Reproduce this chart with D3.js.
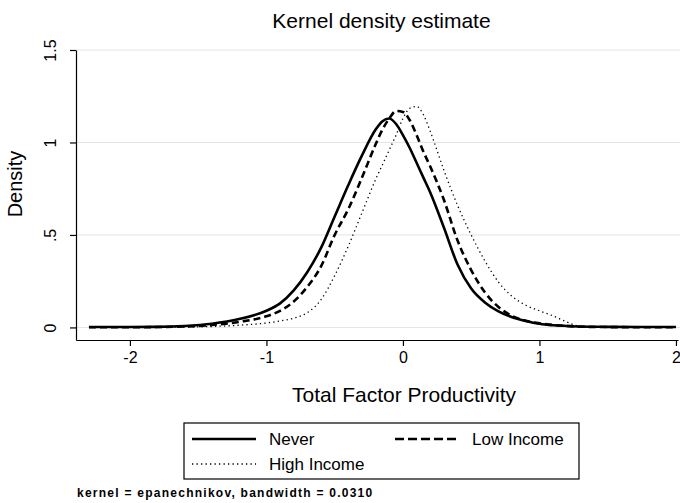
<!DOCTYPE html>
<html>
<head>
<meta charset="utf-8">
<script src="https://cdn.jsdelivr.net/npm/d3@7"></script>
<style>
  body { margin: 0; background: #fff; }
  text { font-family: "Liberation Sans", Arial, sans-serif; fill: #000; }
</style>
</head>
<body>
<script>
var xGrid = [-2.3, -2.0, -1.8, -1.6, -1.4, -1.2, -1.0, -0.9, -0.8, -0.7, -0.6, -0.5, -0.4, -0.3, -0.2, -0.15,
  -0.1, -0.05, 0, 0.05, 0.1, 0.15, 0.2, 0.3, 0.4, 0.5, 0.6, 0.7, 0.8, 0.9, 1.0, 1.1, 1.2, 1.3, 1.5, 1.75, 2.0];

var neverDensity = [0.002, 0.002, 0.003, 0.008, 0.02, 0.045, 0.09, 0.13, 0.2, 0.3, 0.43, 0.6, 0.77, 0.93, 1.07, 1.115,
  1.13, 1.1, 1.04, 0.97, 0.89, 0.81, 0.73, 0.54, 0.34, 0.21, 0.135, 0.087, 0.055, 0.035, 0.02, 0.012, 0.008, 0.005, 0.003, 0.002, 0.002];

var lowDensity = [0.001, 0.001, 0.002, 0.005, 0.013, 0.03, 0.06, 0.09, 0.14, 0.22, 0.33, 0.5, 0.64, 0.81, 0.99, 1.07,
  1.13, 1.17, 1.165, 1.12, 1.04, 0.95, 0.87, 0.69, 0.47, 0.31, 0.19, 0.11, 0.062, 0.036, 0.022, 0.013, 0.008, 0.004, 0.002, 0.001, 0.001];

var highDensity = [0.001, 0.001, 0.001, 0.002, 0.005, 0.012, 0.024, 0.035, 0.05, 0.08, 0.15, 0.28, 0.44, 0.62, 0.8, 0.88,
  0.96, 1.04, 1.13, 1.185, 1.195, 1.15, 1.06, 0.85, 0.66, 0.5, 0.36, 0.245, 0.168, 0.12, 0.09, 0.062, 0.03, 0.006, 0.002, 0.001, 0.001];

var seriesNames = ["Never", "Low Income", "High Income"];
var xTicks = [-2, -1, 0, 1, 2];
var xTickLabels = ["-2", "-1", "0", "1", "2"];
var yTicks = [0, 0.5, 1, 1.5];
var yTickLabels = ["0", ".5", "1", "1.5"];

var svgWidth = 680;
var svgHeight = 503;

var svg = d3.select("body")
  .append("svg")
  .attr("width", svgWidth)
  .attr("height", svgHeight);

var xScale = d3.scaleLinear()
  .domain([-2.395, 2.015])
  .range([76, 678]);

var yScale = d3.scaleLinear()
  .domain([-0.068, 1.5])
  .range([340, 50]);

// gridlines
svg.selectAll(".grid")
  .data(yTicks)
  .enter()
  .append("line")
  .attr("class", "grid")
  .attr("x1", 76)
  .attr("x2", 680)
  .attr("y1", function(d) { return yScale(d); })
  .attr("y2", function(d) { return yScale(d); })
  .style("stroke", "#e4e4e4")
  .style("stroke-width", 1);

// curves
var styles = [
  { width: 2.6, dash: null },
  { width: 2.6, dash: "7,4" },
  { width: 1.3, dash: "1.3,3.2" }
];
var allSeries = [neverDensity, lowDensity, highDensity];

var line = d3.line()
  .x(function(d, i) { return xScale(xGrid[i]); })
  .y(function(d) { return yScale(d); })
  .curve(d3.curveMonotoneX);

svg.selectAll(".curve")
  .data(allSeries)
  .enter()
  .append("path")
  .attr("class", "curve")
  .attr("d", line)
  .style("fill", "none")
  .style("stroke", "#000")
  .style("stroke-width", function(d, i) { return styles[i].width; })
  .style("stroke-dasharray", function(d, i) { return styles[i].dash; });

// Draw x-axis
var xAxis = svg.append("g")
  .attr("transform", "translate(0, 340)")
  .call(d3.axisBottom(xScale).tickValues(xTicks).tickSize(6).tickSizeOuter(0).tickPadding(6)
    .tickFormat(function(d, i) { return xTickLabels[i]; }));
xAxis.selectAll("text")
  .style("font-size", "16px")
  .style("font-family", "Liberation Sans, Arial, sans-serif");

// Draw y-axis
var yAxis = svg.append("g")
  .attr("transform", "translate(76, 0)")
  .call(d3.axisLeft(yScale).tickValues(yTicks).tickSize(6).tickSizeOuter(0)
    .tickFormat(function(d, i) { return yTickLabels[i]; }));
yAxis.selectAll("text")
  .attr("x", null)
  .attr("dy", null)
  .attr("transform", "translate(-20, 0) rotate(-90)")
  .style("text-anchor", "middle")
  .style("font-size", "16px")
  .style("font-family", "Liberation Sans, Arial, sans-serif");
svg.selectAll(".domain, .tick line").style("stroke", "#000").style("stroke-width", 1.2);

// titles
svg.append("text")
  .attr("x", 381.5)
  .attr("y", 28)
  .attr("text-anchor", "middle")
  .style("font-size", "21px")
  .text("Kernel density estimate");

svg.append("text")
  .attr("x", 404)
  .attr("y", 402)
  .attr("text-anchor", "middle")
  .style("font-size", "21px")
  .text("Total Factor Productivity");

svg.append("text")
  .attr("transform", "translate(22, 184) rotate(-90)")
  .attr("text-anchor", "middle")
  .style("font-size", "20px")
  .text("Density");

// legend
svg.append("rect")
  .attr("x", 184)
  .attr("y", 423)
  .attr("width", 395)
  .attr("height", 56)
  .style("fill", "none")
  .style("stroke", "#000")
  .style("stroke-width", 1.2);

var legendPos = [
  { x: 192, y: 439 },
  { x: 395, y: 439 },
  { x: 192, y: 464 }
];

seriesNames.forEach(function(name, i) {
  var p = legendPos[i];
  svg.append("line")
    .attr("x1", p.x)
    .attr("x2", p.x + 64)
    .attr("y1", p.y)
    .attr("y2", p.y)
    .style("stroke", "#000")
    .style("stroke-width", styles[i].width)
    .style("stroke-dasharray", i === 1 ? "9,4" : styles[i].dash);
  svg.append("text")
    .attr("x", p.x + 77)
    .attr("y", p.y + 6)
    .style("font-size", "17px")
    .text(name);
});

// note
svg.append("text")
  .attr("x", 77)
  .attr("y", 497)
  .style("font-size", "12px")
  .style("font-weight", "bold")
  .style("letter-spacing", "1.25px")
  .text("kernel = epanechnikov, bandwidth = 0.0310");
</script>
</body>
</html>
